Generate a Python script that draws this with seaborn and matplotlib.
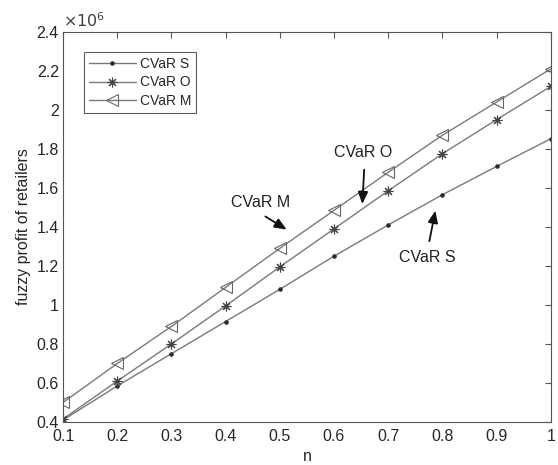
import matplotlib
matplotlib.use("Agg")
import matplotlib.pyplot as plt
import seaborn as sns
import pandas as pd

n_vals = [0.1, 0.2, 0.3, 0.4, 0.5, 0.6, 0.7, 0.8, 0.9, 1.0]
cvar_s = [0.41, 0.585, 0.75, 0.915, 1.08, 1.25, 1.41, 1.565, 1.71, 1.852]
cvar_o = [0.415, 0.61, 0.80, 0.995, 1.195, 1.39, 1.585, 1.775, 1.95, 2.12]
cvar_m = [0.50, 0.70, 0.89, 1.09, 1.29, 1.485, 1.68, 1.87, 2.04, 2.21]
series_names = ["CVaR S", "CVaR O", "CVaR M"]
x_ticks = [0.1, 0.2, 0.3, 0.4, 0.5, 0.6, 0.7, 0.8, 0.9, 1.0]
x_tick_labels = ["0.1", "0.2", "0.3", "0.4", "0.5", "0.6", "0.7", "0.8", "0.9", "1"]
y_ticks = [0.4, 0.6, 0.8, 1.0, 1.2, 1.4, 1.6, 1.8, 2.0, 2.2, 2.4]
y_tick_labels = ["0.4", "0.6", "0.8", "1", "1.2", "1.4", "1.6", "1.8", "2", "2.2", "2.4"]

df = pd.DataFrame({
    "n": n_vals * 3,
    "profit": cvar_s + cvar_o + cvar_m,
    "series": [series_names[0]] * 10 + [series_names[1]] * 10 + [series_names[2]] * 10,
})

sns.set_theme(style="white")
plt.rcParams["font.family"] = ["Liberation Sans", "DejaVu Sans"]

fig = plt.figure(figsize=(5.58, 4.65), dpi=100)
ax = fig.add_axes([0.113, 0.0925, 0.874, 0.839])

markers = {"CVaR S": "o", "CVaR O": (8, 2, 0), "CVaR M": "<"}
msizes = {"CVaR S": 2.5, "CVaR O": 7, "CVaR M": 8}
mfc = {"CVaR S": "#222222", "CVaR O": "#333333", "CVaR M": "none"}
mec = {"CVaR S": "#333333", "CVaR O": "#444444", "CVaR M": "#666666"}
line_col = "#7a7a7a"

for name in series_names:
    sub = df[df["series"] == name]
    sns.lineplot(data=sub, x="n", y="profit", ax=ax, color=line_col, lw=1.0,
                 marker=markers[name], markersize=msizes[name],
                 markerfacecolor=mfc[name], markeredgecolor=mec[name],
                 markeredgewidth=0.8, label=name)

ax.set_xlim(0.1, 1.0)
ax.set_ylim(0.4, 2.4)
ax.set_xticks(x_ticks)
ax.set_xticklabels(x_tick_labels)
ax.set_yticks(y_ticks)
ax.set_yticklabels(y_tick_labels)
ax.tick_params(direction="in", length=4, width=0.8, color="#555555",
               top=True, right=True, labelsize=11.5, labelcolor="#262626")
ax.tick_params(axis="x", pad=5)
ax.tick_params(axis="y", pad=3)
for sp in ax.spines.values():
    sp.set_color("#555555")
    sp.set_linewidth(0.8)

ax.set_xlabel("n", fontsize=11.5, color="#262626", labelpad=4)
ax.set_ylabel("fuzzy profit of retailers", fontsize=11.5, color="#262626", labelpad=4)

ax.text(0.0, 1.005, r"$\times10^6$", transform=ax.transAxes, fontsize=11.5,
        color="#404040", ha="left", va="bottom")

leg = ax.legend(loc="upper left", bbox_to_anchor=(0.0427, 0.949), frameon=True,
                fancybox=False, fontsize=10, handlelength=3.4, borderpad=0.35,
                labelspacing=0.35, handletextpad=0.3, borderaxespad=0)
leg.get_frame().set_edgecolor("#333333")
leg.get_frame().set_linewidth(0.8)

arrow = dict(arrowstyle="-|>,head_width=0.25,head_length=0.6", color="#111111", lw=1.3)
ax.annotate("", xy=(0.517, 1.379), xytext=(0.469, 1.461), arrowprops=arrow)
ax.text(0.464, 1.523, "CVaR M", fontsize=11.5, ha="center", va="center", color="#222222")
ax.annotate("", xy=(0.652, 1.503), xytext=(0.656, 1.708), arrowprops=arrow)
ax.text(0.654, 1.779, "CVaR O", fontsize=11.5, ha="center", va="center", color="#222222")
ax.annotate("", xy=(0.788, 1.497), xytext=(0.775, 1.313), arrowprops=arrow)
ax.text(0.773, 1.241, "CVaR S", fontsize=11.5, ha="center", va="center", color="#222222")

fig.savefig("out.png", dpi=100)
